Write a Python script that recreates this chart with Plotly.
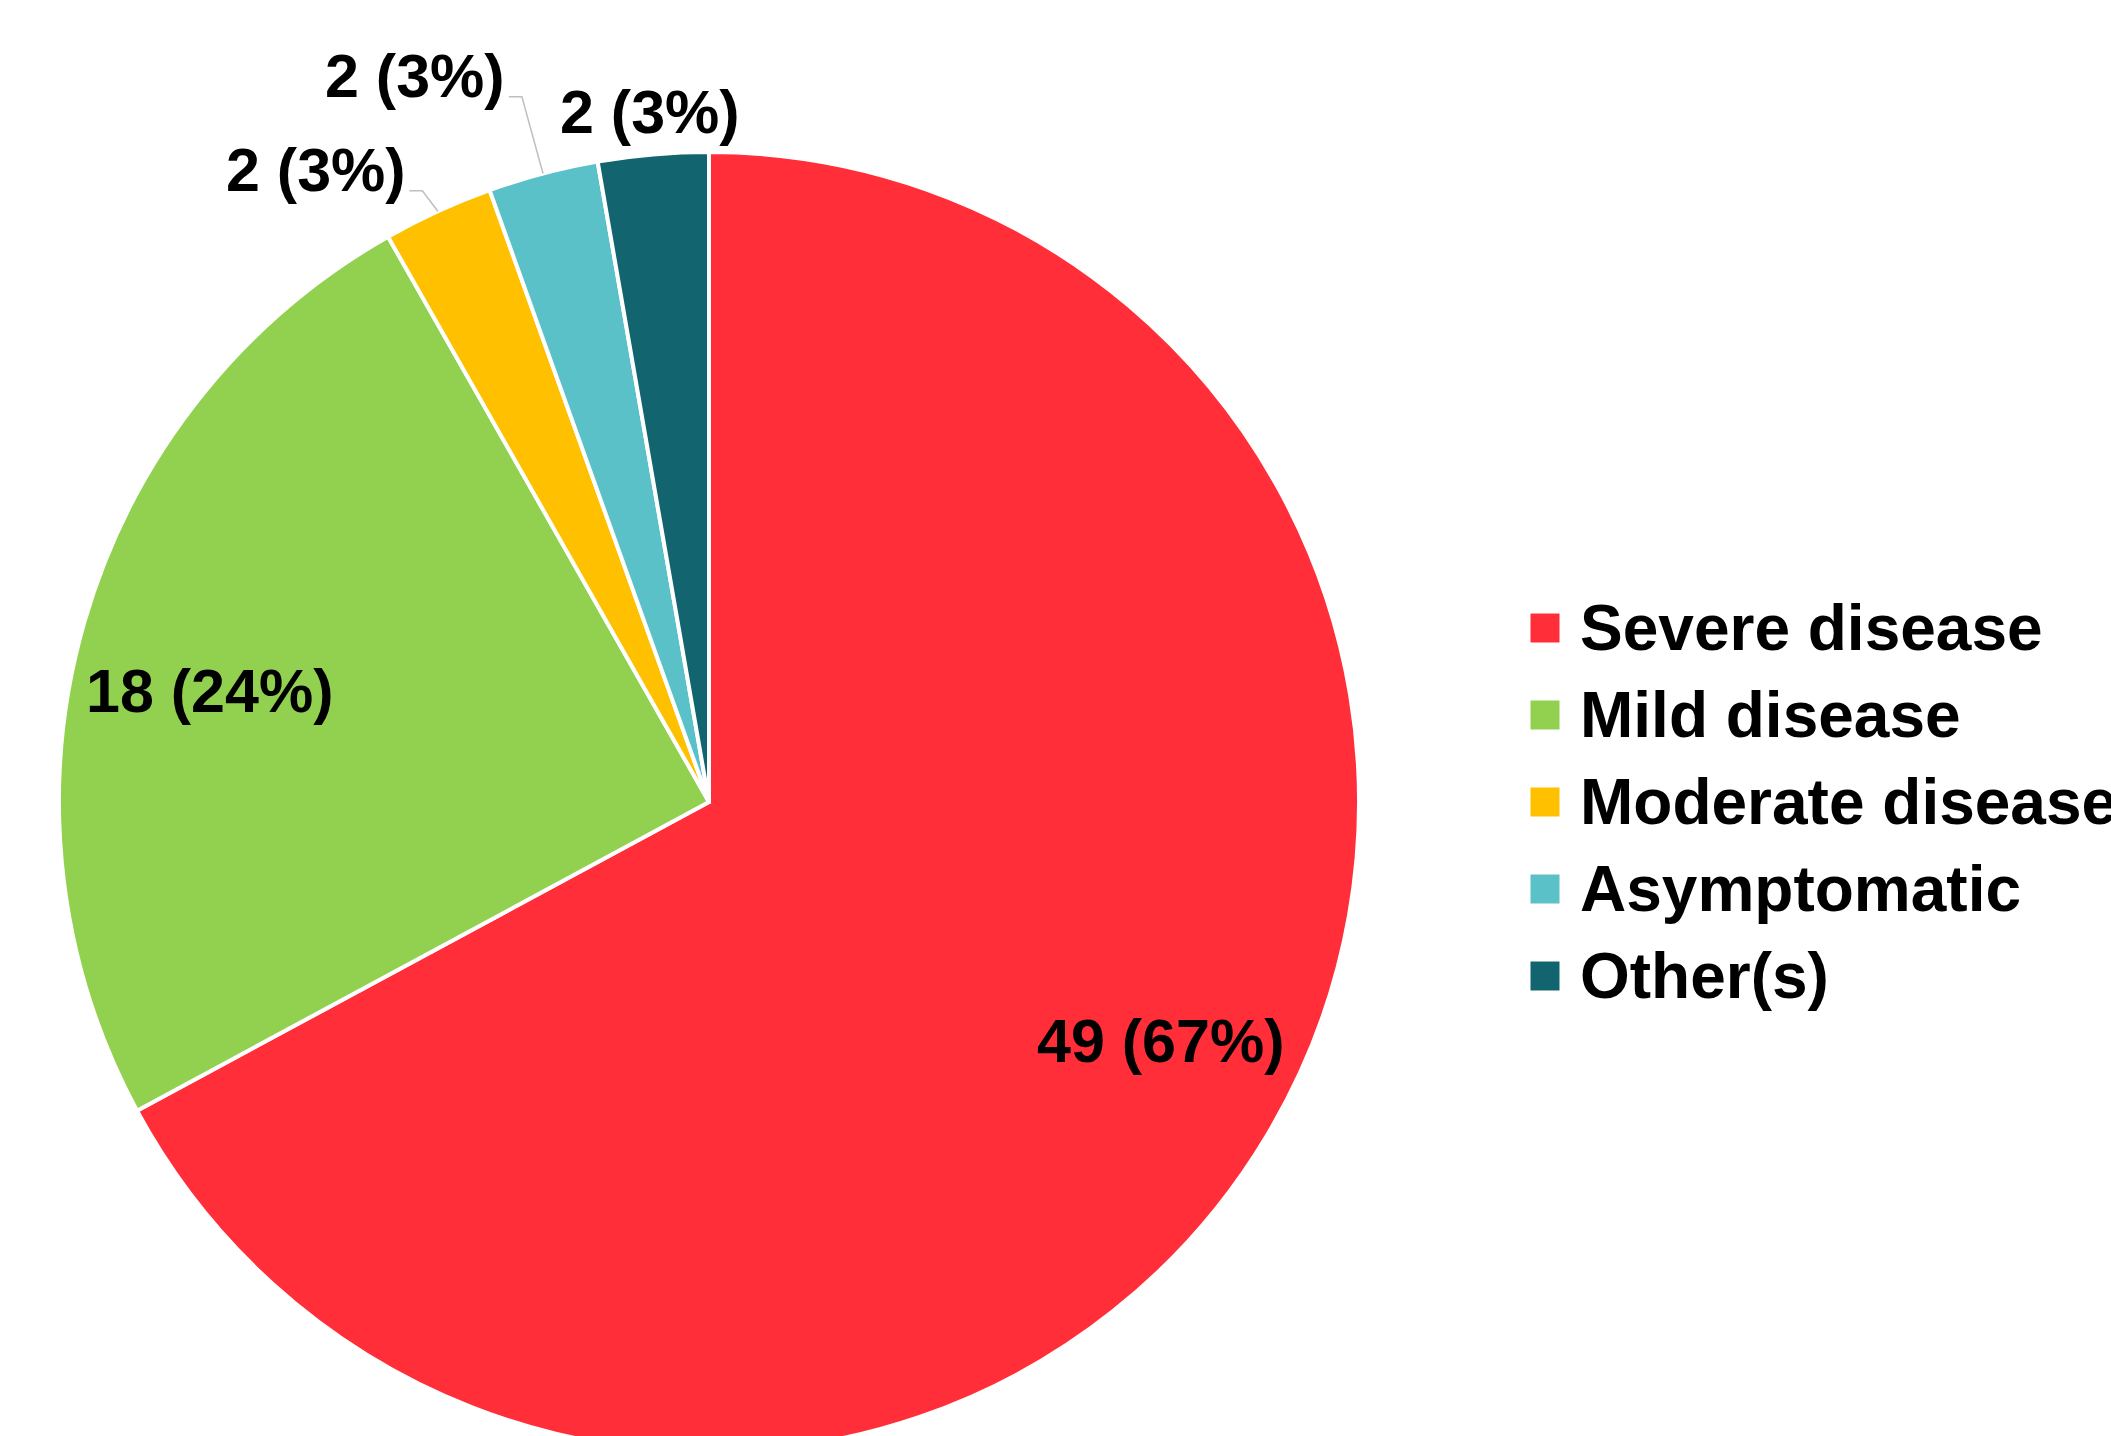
import math
import plotly.graph_objects as go

# Disease severity breakdown
categories = ["Severe disease", "Mild disease", "Moderate disease", "Asymptomatic", "Other(s)"]
counts = [49, 18, 2, 2, 2]
pct_labels = ["67%", "24%", "3%", "3%", "3%"]
colors = ["#FF2E38", "#92D050", "#FFC000", "#5BC1C8", "#12646E"]

# Canvas and pie geometry (pixels)
W, H = 2111, 1470
CX, CY, R = 709, 802, 650

FONT = "Liberation Sans, Arial, sans-serif"
LABEL_SIZE = 61
LEGEND_SIZE = 64

# Label placement: radius fraction along the slice's mid angle, manual nudges (px)
label_radius = [0.785, 0.785, 1.06, 1.06, 1.06]
label_nudge = [(14, -22), (-9, 30), (-106, -6), (-118, -60), (0, -4)]
label_leader = [False, False, True, True, False]


def px(x):
    return x / W


def py(y):
    return 1 - y / H


total = sum(counts)
mid_angles = []
acc = 0
for v in counts:
    mid_angles.append((acc + v / 2) / total * 360.0)
    acc += v


def polar(angle_deg, r):
    a = math.radians(angle_deg)
    return CX + r * math.sin(a), CY - r * math.cos(a)


fig = go.Figure()
fig.add_trace(go.Pie(
    values=counts,
    labels=categories,
    marker=dict(colors=colors, line=dict(color="white", width=4)),
    sort=False,
    direction="clockwise",
    rotation=0,
    textinfo="none",
    hoverinfo="label+value+percent",
    showlegend=False,
    domain=dict(x=[px(CX - R), px(CX + R)], y=[py(CY + R), py(CY - R)]),
))

annotations = []
shapes = []

# Data labels "count (pct)"
for i, (v, p) in enumerate(zip(counts, pct_labels)):
    ax, ay = polar(mid_angles[i], label_radius[i] * R)
    lx, ly = ax + label_nudge[i][0], ay + label_nudge[i][1]
    text = f"{v} ({p})"
    annotations.append(dict(
        x=px(lx), y=py(ly), xref="paper", yref="paper",
        text=text, showarrow=False,
        xanchor="center", yanchor="middle",
        font=dict(family=FONT, size=LABEL_SIZE, color="black", weight="bold"),
    ))
    if label_leader[i]:
        # leader line: slice edge -> bend -> short horizontal run to the label
        ex, ey = polar(mid_angles[i], R)
        half_w = 0.5 * 2.945 * LABEL_SIZE
        hx = lx + half_w + 4
        hy = ly + 21
        bx = hx + 13
        shapes.append(dict(
            type="path", xref="paper", yref="paper",
            path=f"M {px(ex)},{py(ey)} L {px(bx)},{py(hy)} L {px(hx)},{py(hy)}",
            line=dict(color="#BFBFBF", width=1.5),
        ))

# Legend on the right
LEG_SQ_X = 1545
LEG_TXT_X = 1578
LEG_STEP = 87
SQ = 29
for i, (name, col) in enumerate(zip(categories, colors)):
    ry = CY + (i - 2) * LEG_STEP
    shapes.append(dict(
        type="rect", xref="paper", yref="paper",
        x0=px(LEG_SQ_X - SQ / 2), x1=px(LEG_SQ_X + SQ / 2),
        y0=py(ry + SQ / 2), y1=py(ry - SQ / 2),
        fillcolor=col, line=dict(width=0),
    ))
    annotations.append(dict(
        x=px(LEG_TXT_X), y=py(ry), xref="paper", yref="paper",
        text=name, showarrow=False, xanchor="left", yanchor="middle",
        font=dict(family=FONT, size=LEGEND_SIZE, color="black", weight="bold"),
    ))

fig.update_layout(
    width=W, height=H,
    margin=dict(l=0, r=0, t=0, b=0),
    paper_bgcolor="white", plot_bgcolor="white",
    annotations=annotations, shapes=shapes,
    showlegend=False,
)

fig.write_html("out.html")
